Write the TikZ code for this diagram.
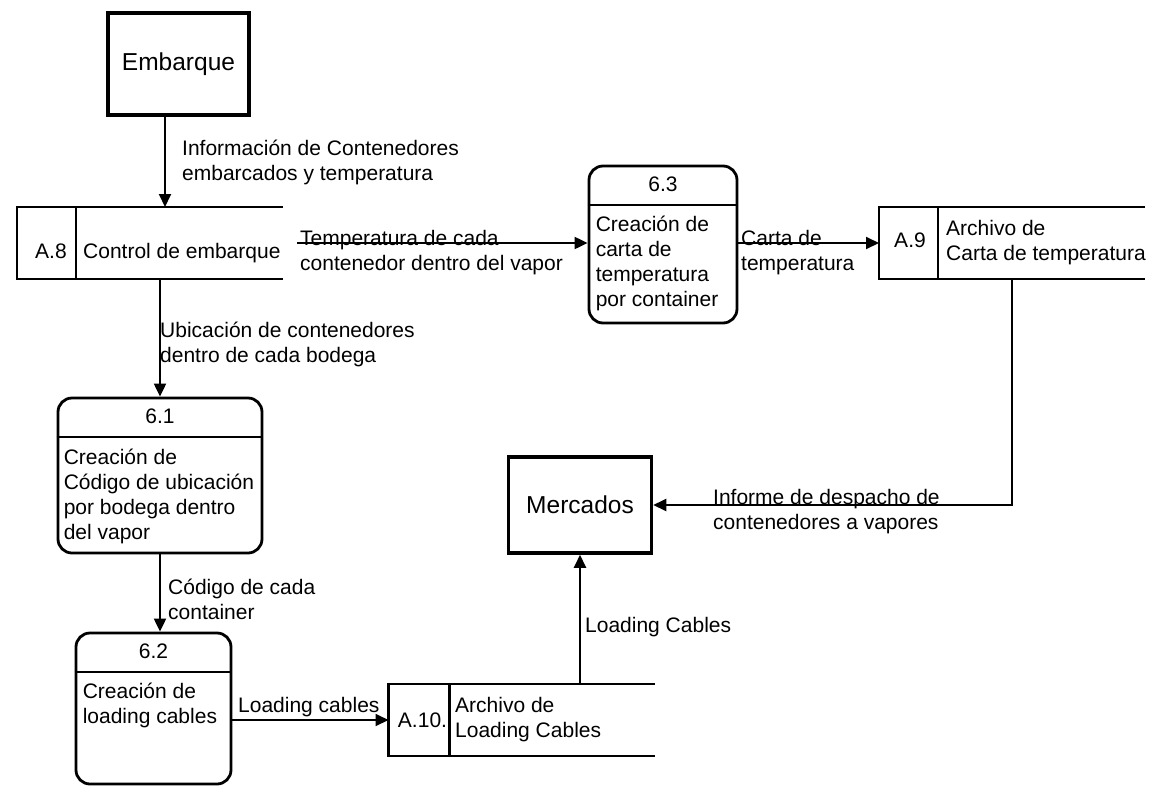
\documentclass[tikz,border=0pt]{standalone}
\usepackage{fontspec}
\setmainfont{Liberation Sans}
\usetikzlibrary{arrows.meta}
\newcommand{\lbl}{\fontsize{21}{25}\selectfont}

\begin{document}
\begin{tikzpicture} [x=1pt, y=-1pt]
    \tikzstyle{entity} = [draw, line width=3.5pt, font=\fontsize{24.5}{29}\selectfont, inner sep=0]
    \tikzstyle{process} = [draw, line width=2.8pt, rounded corners=14pt, inner sep=0]
    \tikzstyle{store} = [minimum width=266pt, minimum height=72pt, inner sep=0, outer sep=0]
    \tikzstyle{store line} = [line width=2.2pt]
    \tikzstyle{divider} = [line width=2pt]
    \tikzstyle{flow} = [draw, line width=2pt, -{Triangle[length=13pt,width=12pt]}]
    \tikzstyle{flow text} = [font=\lbl, align=left, inner sep=0, anchor=north west]
    \tikzstyle{small text} = [font=\lbl, inner sep=0]

    \useasboundingbox[fill=white] (0,0) rectangle (1152,785);

      % external entities
      \node[entity, minimum width=141pt, minimum height=102pt] (emb)  at (178.5,64) {Embarque};
      \node[entity, minimum width=143pt, minimum height=96pt]  (merc) at (580,505)  {Mercados};

      % processes
      \node[process, minimum width=148pt, minimum height=157pt] (p63) at (663,244.5) {};
      \node[process, minimum width=204pt, minimum height=155pt] (p61) at (160,475.5) {};
      \node[process, minimum width=155pt, minimum height=151pt] (p62) at (153.5,708.5) {};
      \draw[divider] ([yshift=-40pt]p63.north west) -- ([yshift=-40pt]p63.north east);
      \draw[divider] ([yshift=-40pt]p61.north west) -- ([yshift=-40pt]p61.north east);
      \draw[divider] ([yshift=-40pt]p62.north west) -- ([yshift=-40pt]p62.north east);

      \node[small text] (p63n) at ([yshift=-20pt]p63.north) {6.3};
      \node[small text] (p61n) at ([yshift=-20pt]p61.north) {6.1};
      \node[small text] (p62n) at ([yshift=-20pt]p62.north) {6.2};
      \node[flow text] (p63b) at ([xshift=8pt,yshift=-49pt]p63.north west)
           {\strut Creación de\\carta de\\temperatura\\por container};
      \node[flow text] (p61b) at ([xshift=7pt,yshift=-50pt]p61.north west)
           {\strut Creación de\\Código de ubicación\\por bodega dentro\\del vapor};
      \node[flow text] (p62b) at ([xshift=8pt,yshift=-49pt]p62.north west)
           {\strut Creación de\\loading cables};

      % data stores
      \node[store] (a8)  at (150,243)   {};
      \node[store] (a9)  at (1012,243)  {};
      \node[store] (a10) at (521.5,720) {};
      \draw[store line] (a8.north east) -- (a8.north west) -- (a8.south west) -- (a8.south east);
      \draw[store line] (a9.north east) -- (a9.north west) -- (a9.south west) -- (a9.south east);
      \draw[store line] (a10.north east) -- (a10.north west) -- (a10.south west) -- (a10.south east);
      \draw[store line] ([xshift=59pt]a8.north west) -- ([xshift=59pt]a8.south west);
      \draw[store line] ([xshift=59pt]a9.north west) -- ([xshift=59pt]a9.south west);
      \draw[store line] ([xshift=61pt]a10.north west) -- ([xshift=61pt]a10.south west);

      \node[small text, anchor=base] (a8id) at (51,258.5) {A.8};
      \node[small text, anchor=base west] (a8t) at (83,258.5) {Control de embarque};
      \node[small text, anchor=base] (a9id) at (910,247.5) {A.9};
      \node[flow text] (a9t) at (946,218) {\strut Archivo de\\Carta de temperatura};
      \node[small text, anchor=base] (a10id) at (422.5,727.5) {A.10.};
      \node[flow text] (a10t) at (455,695) {\strut Archivo de\\Loading Cables};

      % flows
      \coordinate (embout) at (165,115);
      \coordinate (a8out) at (297,243);
      \draw[flow] (embout) -- (embout |- a8.north);
      \draw[flow] (p61.north |- a8.south) -- (p61.north);
      \draw[flow] (a8out) -- (a8out -| p63.west);
      \draw[flow] (p63.east |- a9.west) -- (a9.west);
      \draw[flow] (a9.south) |- (merc.east);
      \draw[flow] (p61.south) -- (p61.south |- p62.north);
      \draw[flow] (p62.east |- a10.west) -- (a10.west);
      \draw[flow] (merc.south |- a10.north) -- (merc.south);

      % flow labels
      \node[flow text] (finfo) at (182,138) {\strut Información de Contenedores\\embarcados y temperatura};
      \node[flow text] (fubic) at (160,320) {\strut Ubicación de contenedores\\dentro de cada bodega};
      \node[flow text] (ftemp) at (300,228) {\strut Temperatura de cada\\contenedor dentro del vapor};
      \node[flow text] (fcarta) at (741,228) {\strut Carta de\\temperatura};
      \node[flow text] (finf) at (713,487) {\strut Informe de despacho de\\contenedores a vapores};
      \node[flow text] (fcod) at (168,577) {\strut Código de cada\\container};
      \node[flow text] (flc) at (238,695) {\strut Loading cables};
      \node[flow text] (fLC) at (585,615) {\strut Loading Cables};
\end{tikzpicture}
\end{document}
